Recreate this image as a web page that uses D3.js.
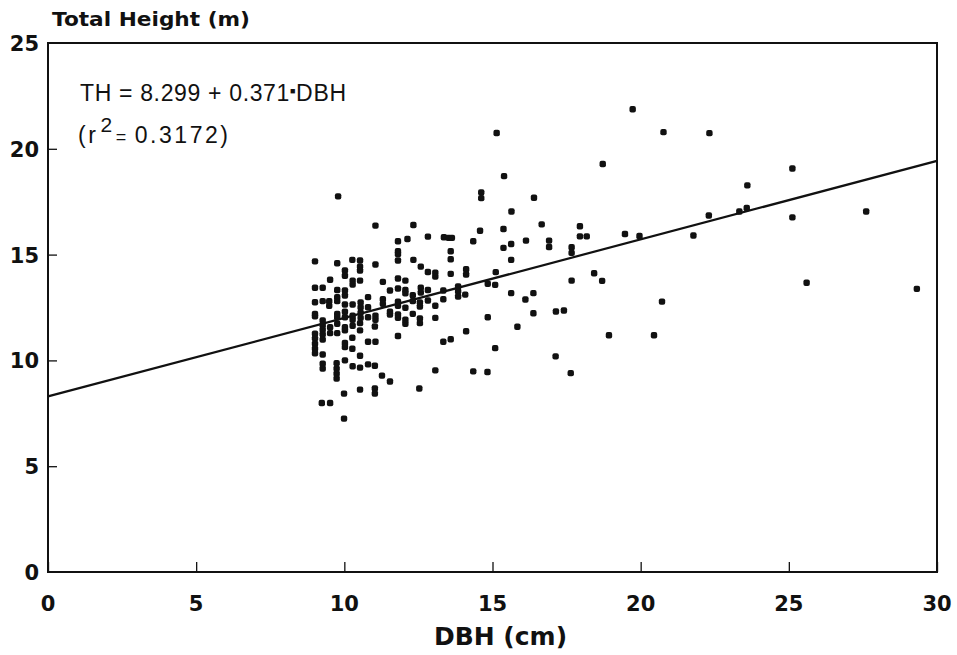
<!DOCTYPE html>
<html>
<head>
<meta charset="utf-8">
<script src="https://cdn.jsdelivr.net/npm/d3@7"></script>
<style>
  body { margin: 0; background: #fff; }
  text { fill: #111; }
</style>
</head>
<body>
<svg id="chart"></svg>
<script>
// tree data: [DBH (cm), total height (m)]
const trees = [
  [11.05,16.37],[12.33,16.40],[12.13,15.74],[11.81,15.63],[12.82,15.85],[13.36,15.82],
  [13.52,15.79],[13.63,15.79],[14.35,15.63],[14.58,16.13],[11.81,15.16],[11.81,15.03],
  [13.59,15.16],[13.59,14.78],[11.81,14.72],[12.33,14.75],[12.58,14.43],[9.01,14.68],
  [9.76,14.59],[10.27,14.75],[10.53,14.72],[10.53,14.43],[10.53,14.25],[11.05,14.53],
  [10.02,14.25],[10.02,14.00],[10.28,13.77],[10.28,13.58],[10.53,13.77],[9.52,13.81],
  [11.30,13.71],[11.81,13.87],[12.06,13.77],[12.82,14.18],[13.07,14.15],[13.07,13.96],
  [13.59,14.09],[14.11,14.31],[14.11,14.06],[9.01,13.43],[9.27,13.43],[9.76,13.33],
  [10.02,13.30],[10.02,13.07],[11.54,13.30],[11.81,13.40],[12.06,13.33],[12.06,13.17],
  [12.31,13.08],[12.58,13.43],[12.58,13.21],[12.82,13.33],[13.34,13.30],[13.84,13.49],
  [13.84,13.27],[14.08,13.11],[13.84,13.02],[10.80,12.99],[11.30,12.89],[11.30,12.67],
  [9.01,12.75],[9.27,12.80],[9.49,12.80],[9.49,12.58],[9.76,12.99],[9.76,12.80],
  [10.02,12.64],[10.28,12.64],[10.55,12.74],[10.55,12.51],[10.80,12.51],[11.81,12.77],
  [11.81,12.58],[12.06,12.49],[12.31,12.80],[12.55,12.74],[12.55,12.55],[12.82,12.83],
  [13.07,12.58],[13.34,12.89],[9.01,12.20],[9.01,12.08],[9.76,12.20],[10.02,12.30],
  [10.02,12.04],[10.28,12.11],[10.28,11.92],[10.55,12.26],[10.55,12.01],[10.80,12.04],
  [11.05,12.11],[11.05,11.92],[11.54,12.30],[11.54,12.17],[11.81,12.17],[11.81,12.01],
  [12.06,11.92],[12.06,11.73],[12.31,12.20],[12.55,11.98],[12.55,11.76],[13.07,12.01],
  [9.27,11.89],[9.27,11.67],[9.27,11.45],[9.27,11.23],[9.27,10.98],[9.52,11.57],
  [9.52,11.29],[9.76,12.04],[9.76,11.73],[9.76,11.29],[10.02,11.57],[10.02,11.42],
  [10.28,11.64],[10.53,11.76],[10.53,11.42],[11.03,11.60],[9.01,11.26],[9.01,11.04],
  [9.01,10.79],[9.01,10.55],[9.01,10.34],[10.02,10.82],[10.02,10.63],[10.27,11.07],
  [10.27,10.55],[10.80,10.88],[11.05,10.88],[11.81,11.15],[13.34,10.88],[13.59,11.00],
  [14.11,11.38],[9.27,10.28],[9.27,9.84],[9.27,9.61],[9.74,9.87],[9.74,9.61],
  [9.74,9.37],[9.74,9.14],[10.02,10.00],[10.28,9.72],[10.53,9.66],[10.80,9.81],
  [11.03,9.75],[10.53,10.22],[11.27,9.28],[11.54,9.00],[13.07,9.53],[14.35,9.48],
  [9.99,8.43],[10.53,8.62],[11.03,8.67],[11.03,8.43],[12.53,8.67],[9.24,7.99],
  [9.52,7.99],[9.99,7.25],[9.79,17.75],
  [19.73,21.87],[15.14,20.75],[20.77,20.79],[18.72,19.28],[15.39,18.71],[14.62,17.94],
  [14.62,17.67],[16.40,17.69],[15.64,17.04],[16.66,16.43],[17.95,16.34],[17.95,15.86],
  [18.18,15.86],[19.47,15.97],[19.96,15.88],[15.37,16.21],[15.37,15.32],[15.63,15.50],
  [15.63,14.75],[16.13,15.66],[16.91,15.66],[16.91,15.36],[17.67,15.35],[17.67,15.08],
  [15.11,14.17],[18.43,14.12],[18.70,13.76],[17.67,13.77],[14.84,13.62],[15.09,13.57],
  [15.63,13.18],[16.38,13.18],[16.11,12.88],[16.38,12.23],[17.14,12.31],[17.41,12.36],
  [14.84,12.04],[15.84,11.59],[15.09,10.58],[17.13,10.19],[14.83,9.45],[17.64,9.40],
  [18.93,11.19],[20.45,11.19],[20.72,12.78],
  [22.32,20.74],[25.12,19.07],[23.60,18.27],[23.58,17.20],[23.33,17.04],[22.30,16.85],
  [25.12,16.76],[27.61,17.04],[21.78,15.90],[25.60,13.67],[29.32,13.38]
];

// fitted line TH = a + b * DBH
const intercept = 8.299;
const slope = 0.371;
const rSquared = "0.3172";

const xTicks = [0, 5, 10, 15, 20, 25, 30];
const yTicks = [0, 5, 10, 15, 20, 25];

const width = 957, height = 655;
const margin = { left: 48, right: 20, top: 43, bottom: 83 };

const svg = d3.select("#chart")
  .attr("width", width)
  .attr("height", height);

const x = d3.scaleLinear().domain([0, 30]).range([margin.left, width - margin.right]);
const y = d3.scaleLinear().domain([0, 25]).range([height - margin.bottom, margin.top]);

const boldFont = "'DejaVu Sans', sans-serif";
const eqFont = "'Liberation Sans', Arial, sans-serif";

// frame
svg.append("rect")
  .attr("x", x(0))
  .attr("y", y(25))
  .attr("width", x(30) - x(0))
  .attr("height", y(0) - y(25))
  .attr("fill", "none")
  .attr("stroke", "#111")
  .attr("stroke-width", 2);

// x axis, ticks pointing inward
const xAxis = svg.append("g")
  .attr("transform", "translate(0," + y(0) + ")")
  .call(d3.axisTop(x).tickValues(xTicks).tickSize(10).tickFormat(""));
xAxis.select(".domain").remove();
xAxis.selectAll("line").attr("stroke", "#111").attr("stroke-width", 1.3);

svg.append("g").selectAll("text")
  .data(xTicks)
  .enter()
  .append("text")
  .attr("x", d => x(d))
  .attr("y", y(0) + 39)
  .attr("text-anchor", "middle")
  .style("font-family", boldFont)
  .style("font-weight", "bold")
  .style("font-size", "21px")
  .text(d => d);

// y axis
const yAxis = svg.append("g")
  .attr("transform", "translate(" + x(0) + ",0)")
  .call(d3.axisRight(y).tickValues(yTicks.filter(d => d > 0 && d < 25)).tickSize(9).tickFormat(""));
yAxis.select(".domain").remove();
yAxis.selectAll("line").attr("stroke", "#111").attr("stroke-width", 1.3);

svg.append("g").selectAll("text")
  .data(yTicks)
  .enter()
  .append("text")
  .attr("x", 39)
  .attr("y", d => y(d) + 8)
  .attr("text-anchor", "end")
  .style("font-family", boldFont)
  .style("font-weight", "bold")
  .style("font-size", "21px")
  .text(d => d);

// axis titles
svg.append("text")
  .attr("x", 52)
  .attr("y", 26)
  .attr("textLength", 198)
  .attr("lengthAdjust", "spacingAndGlyphs")
  .style("font-family", boldFont)
  .style("font-weight", "bold")
  .style("font-size", "19px")
  .text("Total Height (m)");

svg.append("text")
  .attr("x", (x(0) + x(30)) / 2 + 8)
  .attr("y", 645)
  .attr("text-anchor", "middle")
  .style("font-family", boldFont)
  .style("font-weight", "bold")
  .style("font-size", "25px")
  .text("DBH (cm)");

// regression line
svg.append("line")
  .attr("x1", x(0))
  .attr("y1", y(intercept))
  .attr("x2", x(30))
  .attr("y2", y(intercept + slope * 30))
  .attr("stroke", "#111")
  .attr("stroke-width", 2.2);

// points
svg.append("g").selectAll("rect")
  .data(trees)
  .enter()
  .append("rect")
  .attr("x", d => x(d[0]) - 3.2)
  .attr("y", d => y(d[1]) - 3.2)
  .attr("width", 6.4)
  .attr("height", 6.4)
  .attr("rx", 2)
  .attr("fill", "#111");

// equation
const eq = svg.append("text")
  .attr("x", 80)
  .attr("y", 101)
  .attr("textLength", 266)
  .attr("lengthAdjust", "spacing")
  .style("font-family", eqFont)
  .style("font-size", "23px");
eq.append("tspan").text("TH = " + intercept + " + " + slope);
eq.append("tspan").attr("dy", -7).style("font-size", "9px").text("■");
eq.append("tspan").attr("dy", 7).text("DBH");

const r2 = svg.append("text")
  .attr("x", 78)
  .attr("y", 143)
  .attr("textLength", 150)
  .attr("lengthAdjust", "spacing")
  .style("font-family", eqFont)
  .style("font-size", "23px");
r2.append("tspan").text("(r");
r2.append("tspan").attr("dy", -11).attr("dx", 2).style("font-size", "21px").text("2");
r2.append("tspan").attr("dy", 11).attr("dx", 1).style("font-size", "18px").text("=");
r2.append("tspan").attr("dx", 6).text(rSquared + ")");
</script>
</body>
</html>
